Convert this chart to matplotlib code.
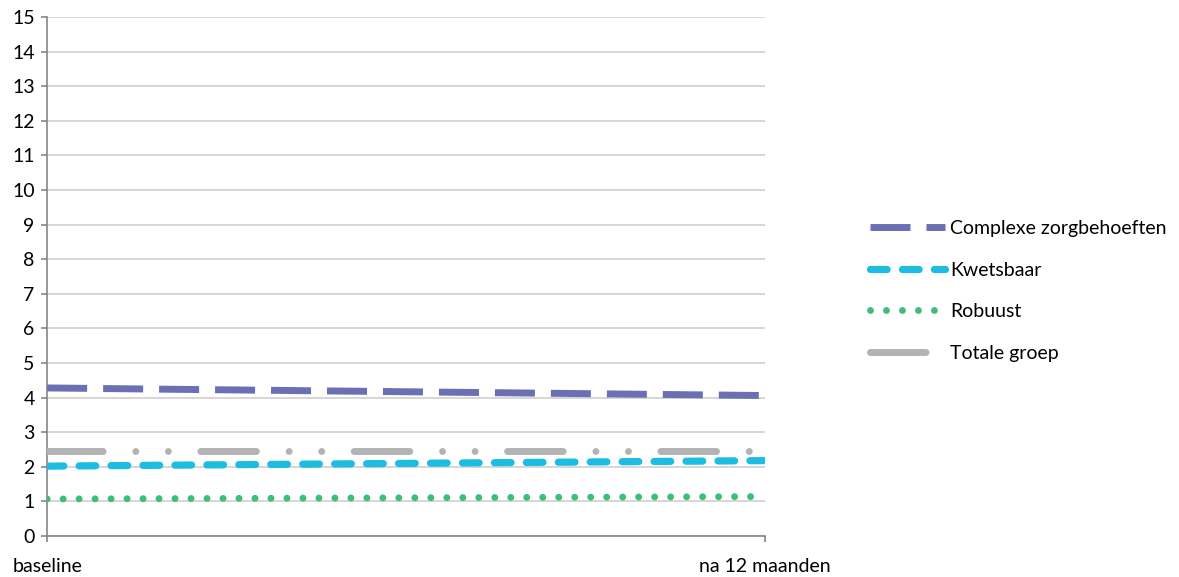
import matplotlib
matplotlib.use("Agg")
import matplotlib.pyplot as plt

plt.rcParams['font.family'] = ['Lato', 'DejaVu Sans']
plt.rcParams['lines.scale_dashes'] = False

# Data
x_labels = ["baseline", "na 12 maanden"]
series_names = ["Complexe zorgbehoeften", "Kwetsbaar", "Robuust", "Totale groep"]
complexe = [4.28, 4.06]
kwetsbaar = [2.02, 2.18]
robuust = [1.07, 1.14]
totale = [2.46, 2.46]
y_ticks = list(range(0, 16))

colors = ["#6b70b5", "#1cbde0", "#3dbf78", "#b3b3b3"]
FS = 14

fig = plt.figure(figsize=(11.79, 5.77), dpi=100)
ax = fig.add_axes([0.040, 0.071, 0.609, 0.8995])

xs = [0, 1]
ax.plot(xs, complexe, color=colors[0], lw=5.0, dashes=(28.8, 11.5),
        dash_capstyle='butt', label=series_names[0], zorder=3)
ax.plot(xs, kwetsbaar, color=colors[1], lw=5.2, dashes=(12.0, 11.0),
        dash_capstyle='round', label=series_names[1], zorder=3)
ax.plot(xs, robuust, color=colors[2], lw=5.0, dashes=(0.01, 11.5),
        dash_capstyle='round', label=series_names[2], zorder=3)
ax.plot(xs, totale, color=colors[3], lw=5.0,
        dashes=(40.0, 23.6, 0.01, 23.4, 0.01, 23.4),
        dash_capstyle='round', label=series_names[3], zorder=3)

ax.set_xlim(0, 1)
ax.set_ylim(0, 15)
ax.set_yticks(y_ticks)
ax.set_xticks(xs)
ax.set_xticklabels(x_labels)
ax.grid(axis='y', color='#cfcfcf', lw=1.2, zorder=0)
ax.set_axisbelow(True)

for s in ['top', 'right']:
    ax.spines[s].set_visible(False)
for s in ['left', 'bottom']:
    ax.spines[s].set_color('#868686')
    ax.spines[s].set_linewidth(1.2)

ax.tick_params(axis='y', length=4, width=1.2, color='#868686', labelsize=FS, pad=5)
ax.tick_params(axis='x', length=4, width=1.2, color='#868686', labelsize=FS, pad=12)

leg = fig.legend(handles=ax.get_lines(), labels=series_names,
                 loc='center left', bbox_to_anchor=(0.738, 0.4957),
                 bbox_transform=fig.transFigure, frameon=False,
                 fontsize=FS, handlelength=3.85, handletextpad=0.25,
                 labelspacing=1.26, borderpad=0, borderaxespad=0)

fig.savefig("out.png", dpi=100)
